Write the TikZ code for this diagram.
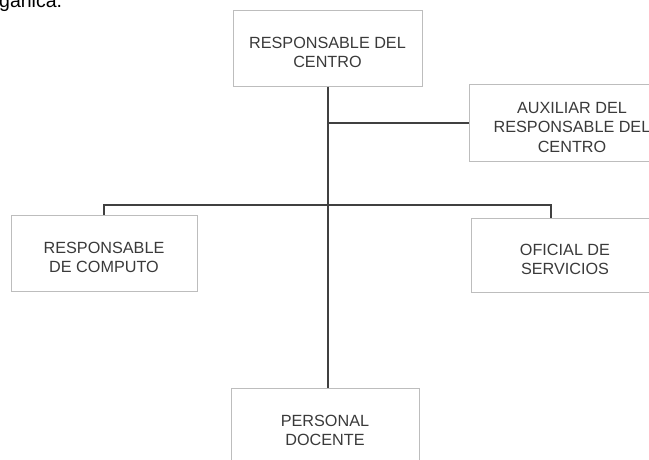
\documentclass[tikz,border=0pt]{standalone}
\usepackage{fontspec}
\setmainfont{Liberation Sans}
\begin{document}
\begin{tikzpicture}[x=1pt,y=-1pt,
  orgbox/.style={draw=boxgray, line width=1pt, fill=white, inner sep=0pt},
  orgtxt/.style={align=center, text=txtgray, font=\fontsize{16.2}{19.5}\selectfont,
    inner sep=0pt, yshift=-4.5pt},
  conn/.style={draw=linegray, line width=2pt}]
\definecolor{boxgray}{HTML}{BDBDBD}
\definecolor{txtgray}{HTML}{3A3A3A}
\definecolor{linegray}{HTML}{404040}
\useasboundingbox (0,0) rectangle (649,459);
\clip (0,0) rectangle (649,459);
\node[anchor=base west, text=black, font=\fontsize{19.5}{22}\selectfont, inner sep=0pt] (hdr) at (-1,7) {gánica.};
\node[orgbox, minimum width=189pt, minimum height=76pt,
  label={[orgtxt, name=topt]center:{RESPONSABLE DEL\\CENTRO}}] (top) at (327.5,48) {};
\node[orgbox, minimum width=206pt, minimum height=77pt,
  label={[orgtxt, name=auxt]center:{AUXILIAR DEL\\RESPONSABLE DEL\\CENTRO}}] (aux) at (572,123) {};
\node[orgbox, minimum width=186pt, minimum height=76pt,
  label={[orgtxt, name=compt]center:{RESPONSABLE\\DE COMPUTO}}] (comp) at (104,253) {};
\node[orgbox, minimum width=188pt, minimum height=74pt,
  label={[orgtxt, name=ofict]center:{OFICIAL DE\\SERVICIOS}}] (ofic) at (565,255) {};
\node[orgbox, minimum width=188pt, minimum height=76pt,
  label={[orgtxt, name=doct]center:{PERSONAL\\DOCENTE}}] (doc) at (325,426) {};
\coordinate (hb) at (327,205);
\coordinate (rt) at (551,218);
\draw[conn] (top.south) -- (top.south |- doc.north);
\draw[conn] (top.south |- aux.west) -- (aux.west);
\draw[conn] (comp.north) |- (rt |- hb) -- (rt);
\end{tikzpicture}
\end{document}
